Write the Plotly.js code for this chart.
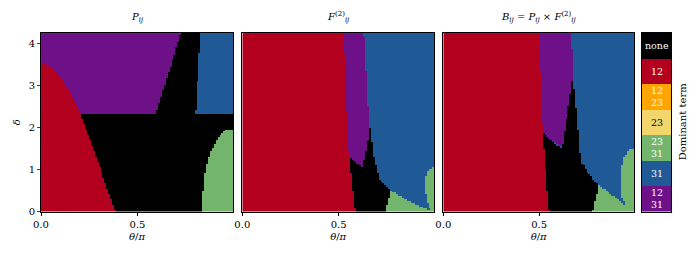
<!DOCTYPE html>
<html><head><meta charset="utf-8">
<script src="https://cdn.plot.ly/plotly-3.0.1.min.js"></script>
<style>html,body{margin:0;padding:0;background:#fff}#chart{width:697px;height:258px}</style>
</head><body><div id="chart"></div>
<script>
// Category labels (index = category code)
const categories = ['none', '12', '12 23', '23', '23 31', '31', '12 31'];
const catText = ['none', '12', '12<br>23', '23', '23<br>31', '31', '12<br>31'];
const catColors = ['#000000', '#b2001e', '#ffa500', '#f2d56b', '#74b56d', '#1f5a96', '#6e1189'];
const catTextColors = ['#ffffff', '#ffffff', '#ffffff', '#000000', '#ffffff', '#ffffff', '#ffffff'];

// Panel titles
const panelTitles = ['<i>P<sub>ij</sub></i>', '<i>F</i><sup>(2)</sup><sub><i>ij</i></sub>',
  '<i>B<sub>ij</sub></i> = <i>P<sub>ij</sub></i> × <i>F</i><sup>(2)</sup><sub><i>ij</i></sub>'];

// Region outlines (theta/pi, delta); painted in order over a background
// Panel 1 (P_ij), background: none
const p1_bg = 0;
const p1_purple_t = [0, 0.595, 0.735, 0];
const p1_purple_d = [2.34, 2.34, 4.4, 4.4];
const p1_red_t = [0, 0, 0.064, 0.116, 0.16, 0.204, 0.387];
const p1_red_d = [0, 3.55, 3.42, 3.14, 2.78, 2.34, 0];
const p1_blue_t = [0.80, 1.05, 1.05, 0.83];
const p1_blue_d = [2.34, 2.34, 4.4, 4.4];
const p1_green_t = [0.831, 0.848, 0.875, 0.918, 0.953, 0.997, 1.05, 1.05];
const p1_green_d = [0, 0.91, 1.39, 1.78, 1.94, 1.97, 1.97, 0];

// Panel 2 (F_ij^(2)), background: 31
const p2_bg = 5;
const p2_purple_t = [0.5, 0.629, 0.653, 0.657, 0.65, 0.624, 0.558, 0.5];
const p2_purple_d = [4.4, 4.4, 2.42, 2.10, 1.62, 1.06, 1.27, 1.27];
const p2_black_t = [0.55, 0.558, 0.624, 0.65, 0.659, 0.685, 0.711, 0.772, 0.741];
const p2_black_d = [0, 1.27, 1.06, 1.62, 2.10, 1.22, 0.75, 0.51, 0];
const p2_red_t = [0, 0, 0.528, 0.542, 0.554, 0.584];
const p2_red_d = [0, 4.4, 4.4, 2.42, 1.30, 0];
const p2_greenA_t = [0.741, 0.772, 0.842, 0.929, 0.981];
const p2_greenA_d = [0, 0.51, 0.31, 0.11, 0];
const p2_greenB_t = [1.05, 0.964, 0.95, 0.945, 0.964, 0.98, 1.05];
const p2_greenB_d = [1.10, 1.03, 0.83, 0.51, 0.15, 0, 0];

// Panel 3 (B_ij), background: 31
const p3_bg = 5;
const p3_purple_t = [0.45, 0.667, 0.676, 0.676, 0.619, 0.56, 0.514, 0.45];
const p3_purple_d = [4.4, 4.4, 3.38, 3.22, 1.54, 1.70, 1.90, 1.90];
const p3_black_t = [0.5, 0.514, 0.56, 0.614, 0.619, 0.676, 0.697, 0.715, 0.75, 0.81, 0.779];
const p3_black_d = [0, 1.90, 1.70, 1.52, 1.54, 3.22, 2.18, 1.22, 0.94, 0.63, 0];
const p3_red_t = [0, 0, 0.502, 0.502, 0.514, 0.553];
const p3_red_d = [0, 4.4, 4.4, 3.38, 1.90, 0];
const p3_greenA_t = [0.779, 0.81, 0.863, 0.915, 0.959, 0.98];
const p3_greenA_d = [0, 0.63, 0.47, 0.27, 0.09, 0];
const p3_greenB_t = [1.05, 0.976, 0.941, 0.929, 0.929, 0.95, 0.98, 1.05];
const p3_greenB_d = [1.54, 1.50, 1.34, 1.06, 0.34, 0.15, 0, 0];

// Axis ticks
const xTickVals = [0, 0.5];
const xTickText = ['0.0', '0.5'];
const yTickVals = [0, 1, 2, 3, 4];
const yTickText = ['0', '1', '2', '3', '4'];
const thetaMax = 0.995, deltaMax = 4.26;
const NX = 100, NY = 100;

const panels = [
  {bg: p1_bg, regions: [[p1_purple_t, p1_purple_d, 6], [p1_red_t, p1_red_d, 1], [p1_blue_t, p1_blue_d, 5], [p1_green_t, p1_green_d, 4]]},
  {bg: p2_bg, regions: [[p2_purple_t, p2_purple_d, 6], [p2_black_t, p2_black_d, 0], [p2_red_t, p2_red_d, 1], [p2_greenA_t, p2_greenA_d, 4], [p2_greenB_t, p2_greenB_d, 4]]},
  {bg: p3_bg, regions: [[p3_purple_t, p3_purple_d, 6], [p3_black_t, p3_black_d, 0], [p3_red_t, p3_red_d, 1], [p3_greenA_t, p3_greenA_d, 4], [p3_greenB_t, p3_greenB_d, 4]]}
];

function inside(x, y, xs, ys) {
  let c = false;
  for (let i = 0, j = xs.length - 1; i < xs.length; j = i++) {
    if (((ys[i] > y) !== (ys[j] > y)) && (x < (xs[j] - xs[i]) * (y - ys[i]) / (ys[j] - ys[i]) + xs[i])) c = !c;
  }
  return c;
}

const xEdges = [], yEdges = [];
for (let i = 0; i <= NX; i++) xEdges.push(thetaMax * i / NX);
for (let j = 0; j <= NY; j++) yEdges.push(deltaMax * j / NY);

function buildZ(p) {
  const z = [];
  for (let j = 0; j < NY; j++) {
    const row = [];
    const y = (yEdges[j] + yEdges[j + 1]) / 2;
    for (let i = 0; i < NX; i++) {
      const x = (xEdges[i] + xEdges[i + 1]) / 2;
      let v = p.bg;
      for (const r of p.regions) if (inside(x, y, r[0], r[1])) v = r[2];
      row.push(v);
    }
    z.push(row);
  }
  return z;
}

const cs = [];
catColors.forEach((c, k) => { cs.push([k / 7, c]); cs.push([(k + 1) / 7, c]); });

const FONT = 'DejaVu Serif';
const traces = panels.map((p, k) => ({
  type: 'heatmap', x: xEdges, y: yEdges, z: buildZ(p),
  xaxis: k === 0 ? 'x' : 'x' + (k + 1), yaxis: k === 0 ? 'y' : 'y' + (k + 1),
  zmin: -0.5, zmax: 6.5, colorscale: cs, showscale: false, hoverinfo: 'skip'
}));

// legend column
const legendZ = [[6], [5], [4], [3], [2], [1], [0]];
traces.push({type: 'heatmap', z: legendZ, x: [0], y: [0, 1, 2, 3, 4, 5, 6], xaxis: 'x4', yaxis: 'y4',
  zmin: -0.5, zmax: 6.5, colorscale: cs, showscale: false, hoverinfo: 'skip', xgap: 0, ygap: 0});

const yDom = [0.18, 0.872];
const xDoms = [[41 / 697, 233 / 697], [242.3 / 697, 434 / 697], [443.3 / 697, 634 / 697]];
const baseX = {range: [0, thetaMax], tickvals: xTickVals, ticktext: xTickText, ticks: 'outside', ticklen: 3,
  tickcolor: '#000', showline: true, mirror: true, linecolor: '#000', linewidth: 1, showgrid: false, zeroline: false,
  tickfont: {family: FONT, size: 10, color: '#000'},
  title: {text: '<i>θ</i>/<i>π</i>', font: {family: FONT, size: 10, color: '#000'}, standoff: 4}};
const layout = {
  width: 697, height: 258, margin: {l: 0, r: 0, t: 0, b: 0}, paper_bgcolor: '#fff', plot_bgcolor: '#fff',
  showlegend: false,
  font: {family: FONT, size: 10, color: '#000'},
  annotations: []
};
xDoms.forEach((d, k) => {
  const sfx = k === 0 ? '' : String(k + 1);
  layout['xaxis' + sfx] = Object.assign({}, baseX, {domain: d, anchor: 'y' + sfx});
  layout['yaxis' + sfx] = {domain: yDom, anchor: 'x' + sfx, range: [0, deltaMax], showgrid: false, zeroline: false,
    showline: true, mirror: true, linecolor: '#000', linewidth: 1,
    tickvals: k === 0 ? yTickVals : [], ticktext: k === 0 ? yTickText : [], ticks: k === 0 ? 'outside' : '', ticklen: 3,
    showticklabels: k === 0, tickfont: {family: FONT, size: 10, color: '#000'},
    title: k === 0 ? {text: '<i>δ</i>', font: {family: FONT, size: 10, color: '#000'}, standoff: 6} : {text: ''}};
  layout.annotations.push({text: panelTitles[k], xref: 'paper', yref: 'paper', x: (d[0] + d[1]) / 2, y: 1 - 17 / 258,
    yanchor: 'middle', xanchor: 'center', showarrow: false, font: {family: FONT, size: 10, color: '#000'}});
});
layout.xaxis4 = {domain: [641.7 / 697, 671.3 / 697], anchor: 'y4', range: [-0.5, 0.5], showticklabels: false, ticks: '',
  showgrid: false, zeroline: false, showline: true, mirror: true, linecolor: '#000', linewidth: 1};
layout.yaxis4 = {domain: yDom, anchor: 'x4', range: [-0.5, 6.5], showticklabels: false, ticks: '',
  showgrid: false, zeroline: false, showline: true, mirror: true, linecolor: '#000', linewidth: 1};
legendZ.forEach((r, j) => {
  const c = r[0];
  layout.annotations.push({text: catText[c], xref: 'x4', yref: 'y4', x: 0, y: j, showarrow: false,
    font: {family: FONT, size: 9.5, color: catTextColors[c]}, align: 'center'});
});
layout.annotations.push({text: 'Dominant term', xref: 'paper', yref: 'paper', x: 682 / 697, y: (yDom[0] + yDom[1]) / 2,
  textangle: -90, showarrow: false, xanchor: 'center', yanchor: 'middle', font: {family: FONT, size: 10, color: '#000'}});

Plotly.newPlot('chart', traces, layout, {displayModeBar: false, staticPlot: true});
</script></body></html>
